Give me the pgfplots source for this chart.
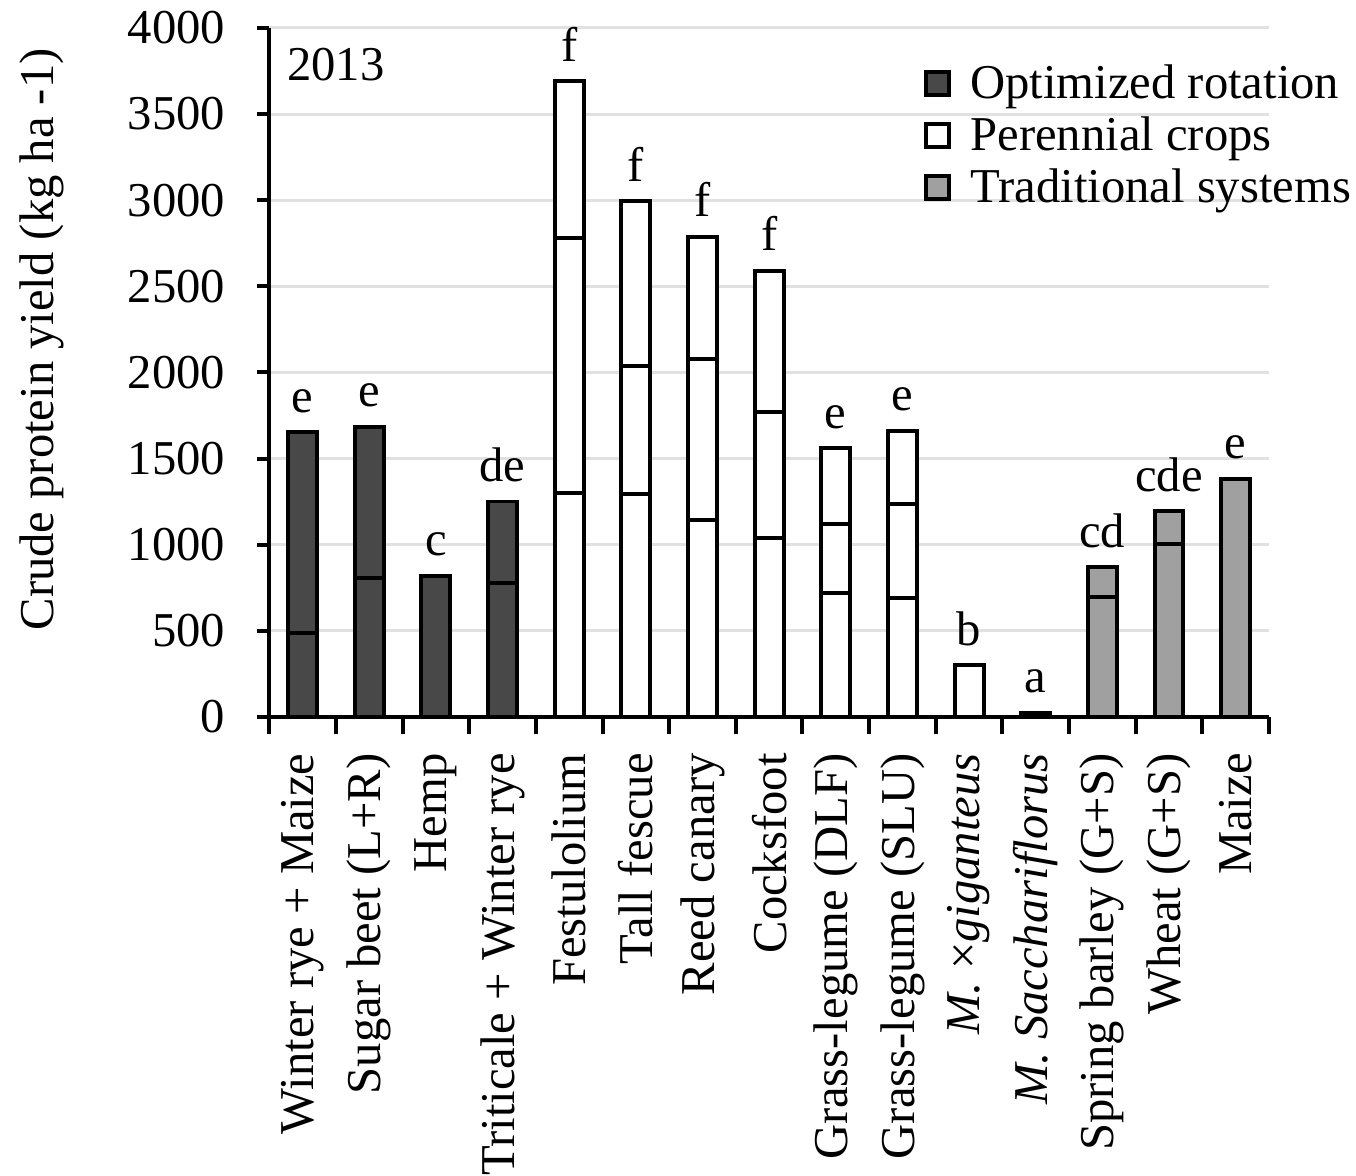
\documentclass[border=0pt]{standalone}
\usepackage{fontspec}
\setmainfont{Liberation Serif}
\usepackage{pgfplots}
\pgfplotsset{compat=1.18}

\definecolor{optcol}{RGB}{72,72,72}
\definecolor{tradcol}{RGB}{160,160,160}
\definecolor{gridcol}{RGB}{225,225,225}

\begin{document}
\begin{tikzpicture}
\begin{axis}[
    name=ax,
    scale only axis,
    width=400.8pt, height=276.3pt,
    xmin=-0.5, xmax=14.5,
    ymin=0, ymax=4000,
    axis x line*=bottom,
    axis y line*=left,
    axis line style={line width=1.6pt},
    font=\fontsize{19.5}{22}\selectfont,
    /pgf/number format/assume math mode=true,
    /pgf/number format/1000 sep={},
    ytick={0,500,...,4000},
    ymajorgrids=true,
    grid style={gridcol, line width=1.2pt},
    tick align=outside,
    major tick length=4.8pt,
    tick style={black, line width=1.6pt},
    yticklabel style={inner sep=1.5pt, xshift=-11.2pt},
    xtick={0,...,14},
    xtick style={draw=none},
    xticklabels={Winter rye + Maize, Sugar beet (L+R), Hemp, Triticale + Winter rye,
        Festulolium, Tall fescue, Reed canary, Cocksfoot, Grass-legume (DLF),
        Grass-legume (SLU), \textit{M.} ×\textit{giganteus}, \textit{M. Sacchariflorus},
        Spring barley (G+S), Wheat (G+S), Maize},
    xticklabel style={rotate=90, anchor=east, inner sep=0pt, xshift=-9.6pt},
    extra x ticks={-0.5,0.5,...,14.5},
    extra x tick labels={},
    extra x tick style={major tick length=6.8pt, xtick style={draw=black}},
    ylabel={Crude protein yield (kg ha -1)},
    ylabel style={at={(axis description cs:-0.2275,0.548)}, anchor=center},
    ybar, bar shift=0pt, bar width=11.6pt,
    every axis plot/.append style={draw=black, line width=1.6pt},
    nodes near coords style={anchor=base, inner sep=0pt, yshift=8pt, font=\fontsize{19.5}{22}\selectfont},
    legend style={draw=none, fill=none, at={(0.654,0.954)}, anchor=north west,
        inner sep=0pt, row sep=1.8pt, font=\fontsize{19.5}{22}\selectfont},
    legend cell align=left,
    legend image code/.code={\draw[#1, line width=1.6pt] (0pt,-4.6pt) rectangle (9.2pt,4.6pt);
        \path (15.2pt,0pt);},
    clip=false,
]

% optimized rotation
\addplot[fill=optcol, nodes near coords, point meta=explicit symbolic]
    coordinates {(0,1654)[e] (1,1686)[e] (2,819)[c] (3,1251)[de]};
\addplot[fill=optcol, forget plot]
    coordinates {(0,485) (1,809) (3,780)};

% perennial crops
\addplot[fill=white, nodes near coords, point meta=explicit symbolic]
    coordinates {(4,3691)[f] (5,2995)[f] (6,2789)[f] (7,2590)[f] (8,1561)[e]
                 (9,1663)[e] (10,301)[b] (11,25)[a]};
\addplot[fill=white, forget plot]
    coordinates {(4,2783) (5,2039) (6,2078) (7,1769) (8,1118) (9,1234)};
\addplot[fill=white, forget plot]
    coordinates {(4,1300) (5,1296) (6,1145) (7,1039) (8,722) (9,692)};

% traditional systems
\addplot[fill=tradcol, nodes near coords, point meta=explicit symbolic]
    coordinates {(12,871)[cd] (13,1196)[cde] (14,1383)[e]};
\addplot[fill=tradcol, forget plot]
    coordinates {(12,697) (13,1002)};

\legend{Optimized rotation, Perennial crops, Traditional systems}

\node[font=\fontsize{19.5}{22}\selectfont] at (axis cs:0.5,3790) {2013};
\end{axis}
\path (ax.south west) ++(-108pt,-182.5pt) rectangle ++(542.4pt,470pt);
\end{tikzpicture}
\end{document}
